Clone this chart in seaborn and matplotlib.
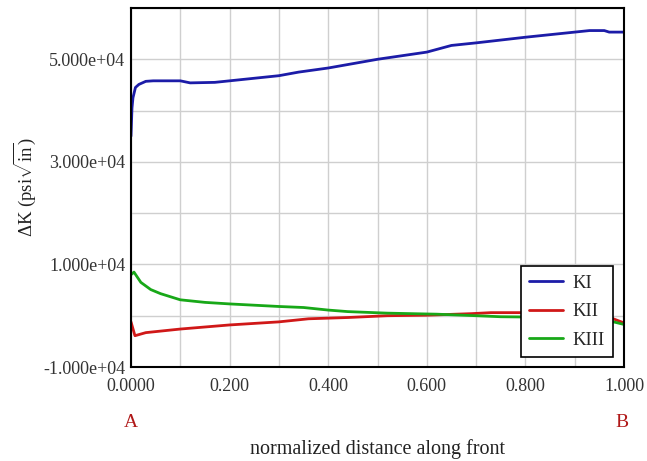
import matplotlib
matplotlib.use("Agg")
import matplotlib.pyplot as plt
import seaborn as sns
import pandas as pd
import numpy as np
from matplotlib.ticker import MultipleLocator, FuncFormatter

# ---- data ----
ki_x = [0.0, 0.002, 0.004, 0.009, 0.016, 0.030, 0.045, 0.10, 0.12, 0.17, 0.20, 0.24, 0.30,
        0.34, 0.40, 0.50, 0.60, 0.65, 0.70, 0.80, 0.90, 0.93, 0.96, 0.97, 1.0]
ki_y = [35000, 40500, 42500, 44500, 45100, 45700, 45800, 45800, 45400, 45500, 45800, 46200, 46800,
        47500, 48300, 50000, 51400, 52700, 53200, 54300, 55300, 55600, 55600, 55300, 55300]

kii_x = [0.0, 0.008, 0.03, 0.10, 0.20, 0.30, 0.36, 0.44, 0.52, 0.60, 0.69, 0.73, 0.80,
         0.85, 0.90, 0.94, 0.97, 1.0]
kii_y = [-1200, -3900, -3300, -2600, -1800, -1200, -600, -350, 0, 100, 400, 600, 600,
         700, 800, 500, -300, -1400]

kiii_x = [0.0, 0.006, 0.02, 0.04, 0.06, 0.10, 0.15, 0.20, 0.30, 0.35, 0.40, 0.44, 0.52,
          0.62, 0.70, 0.75, 0.85, 0.90, 0.95, 0.97, 1.0]
kiii_y = [8000, 8500, 6500, 5100, 4300, 3100, 2600, 2300, 1800, 1600, 1100, 800, 500,
          300, 0, -200, -300, -400, -600, -1000, -1700]

series_names = ["KI", "KII", "KIII"]
series_colors = ["#1c1ca8", "#d01818", "#18a818"]

df = pd.concat([
    pd.DataFrame({"x": ki_x, "y": ki_y, "series": "KI"}),
    pd.DataFrame({"x": kii_x, "y": kii_y, "series": "KII"}),
    pd.DataFrame({"x": kiii_x, "y": kiii_y, "series": "KIII"}),
], ignore_index=True)

sns.set_style("white")
plt.rcParams["font.family"] = ["Liberation Serif", "DejaVu Serif"]
plt.rcParams["mathtext.fontset"] = "custom"
plt.rcParams["mathtext.rm"] = "Liberation Serif"
plt.rcParams["mathtext.it"] = "Liberation Serif:italic"

fig = plt.figure(figsize=(6.47, 4.61), dpi=100)
ax = fig.add_axes([131 / 647, 1 - 367 / 461, (624 - 131) / 647, (367 - 8) / 461])

sns.lineplot(data=df, x="x", y="y", hue="series", hue_order=series_names,
             palette=dict(zip(series_names, series_colors)), estimator=None,
             sort=False, linewidth=2.0, ax=ax)

ax.set_xlim(0, 1.0)
ax.set_ylim(-10000, 60000)

ax.xaxis.set_major_locator(MultipleLocator(0.1))
ax.xaxis.set_minor_locator(MultipleLocator(1 / 60))
ax.yaxis.set_major_locator(MultipleLocator(10000))
ax.yaxis.set_minor_locator(MultipleLocator(2000))


def xfmt(v, pos):
    k = int(round(v * 10))
    if k % 2:
        return ""
    if k == 0:
        return "0.0000"
    return f"{v:.3f}"


def yfmt(v, pos):
    k = int(round(v / 10000))
    if k % 2 == 0:
        return ""
    return f"{v:.3e}"


ax.xaxis.set_major_formatter(FuncFormatter(xfmt))
ax.yaxis.set_major_formatter(FuncFormatter(yfmt))

ax.grid(True, which="major", color="#cfcfcf", linewidth=1.0)
ax.tick_params(which="major", direction="in", length=7, width=1.2, labelsize=13,
               colors="black", labelcolor="#333333")
ax.tick_params(which="minor", direction="in", length=4, width=1.0)
ax.tick_params(axis="x", pad=8)
ax.tick_params(axis="y", pad=4)
for s in ax.spines.values():
    s.set_visible(True)
    s.set_color("black")
    s.set_linewidth(1.5)

ax.set_xlabel("normalized distance along front", fontsize=14.5, color="#222222", va="center")
ax.xaxis.set_label_coords(0.5, (367 - 449) / 359)
ax.set_ylabel(r"$\Delta$K (psi$\sqrt{\mathrm{in}}$)", fontsize=13.5, color="#222222", labelpad=4)

ax.text(0.0, -0.155, "A", transform=ax.transAxes, ha="center", va="center",
        color="#b01818", fontsize=14)
ax.text(0.995, -0.155, "B", transform=ax.transAxes, ha="center", va="center",
        color="#b01818", fontsize=14)

leg = ax.legend(loc="lower right", bbox_to_anchor=(0.978, 0.028), borderaxespad=0,
                fontsize=13.5, frameon=True, fancybox=False, handlelength=1.8,
                handletextpad=0.5, labelspacing=0.6, borderpad=0.45, title=None)
leg.get_frame().set_edgecolor("black")
leg.get_frame().set_linewidth(1.2)
leg.get_frame().set_alpha(1)

fig.savefig("out.png", dpi=100)
